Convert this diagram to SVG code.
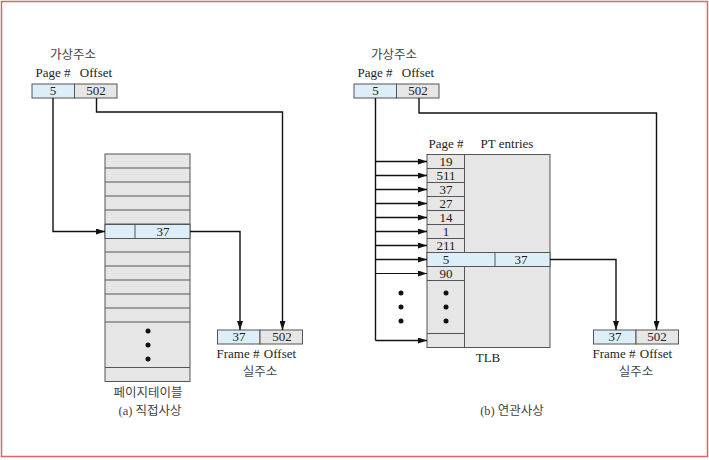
<svg xmlns="http://www.w3.org/2000/svg" width="709" height="460" viewBox="0 0 709 460">
<defs>
<marker id="ah" markerWidth="9" markerHeight="6" refX="9" refY="3" orient="auto" markerUnits="userSpaceOnUse">
<path d="M0,0 L9,3 L0,6 Z" fill="#111"/>
</marker>
<style>
.t{font-family:"Liberation Serif","Times New Roman",serif;font-size:13px;fill:#222;text-anchor:middle}
.k{font-family:"Liberation Serif","Noto Sans CJK KR","Noto Sans",serif;font-size:12.5px;fill:#444;text-anchor:middle}
.g{fill:#e6e6e6;stroke:#555;stroke-width:1}
.b{fill:#dceef8;stroke:#555;stroke-width:1}
.ln{stroke:#555;stroke-width:1;fill:none}
.c{stroke:#111;stroke-width:1.4;fill:none;marker-end:url(#ah)}
.ct{stroke:#111;stroke-width:1;fill:none;marker-end:url(#ah)}
.d{fill:#111}
</style>
</defs>
<rect x="1.5" y="1.5" width="706" height="455" fill="#fff" stroke="#e06666" stroke-width="1.5"/>

<!-- (a) virtual address -->
<g id="va-a">
<text class="k" x="73" y="59">가상주소</text>
<text class="t" x="53" y="77">Page #</text>
<text class="t" x="96" y="77">Offset</text>
<rect class="b" x="32" y="84" width="42.5" height="14"/>
<rect class="g" x="74.5" y="84" width="42.5" height="14"/>
<text class="t" x="53" y="95">5</text>
<text class="t" x="96" y="95">502</text>
</g>

<!-- (a) page table -->
<g id="pagetable">
<rect class="g" x="105" y="154" width="85" height="227.5"/>
<path class="ln" d="M105,168H190M105,182H190M105,196H190M105,210H190M105,224H190M105,238H190M105,252H190M105,266H190M105,280H190M105,294H190M105,308H190M105,322H190M105,367.5H190"/>
<rect class="b" x="105" y="224.5" width="85" height="14"/>
<line class="ln" x1="135" y1="224.5" x2="135" y2="238.5"/>
<text class="t" x="163" y="235.5">37</text>
<circle class="d" cx="148" cy="331" r="2.5"/>
<circle class="d" cx="148" cy="345" r="2.5"/>
<circle class="d" cx="148" cy="359" r="2.5"/>
<text class="k" x="148" y="397">페이지테이블</text>
</g>

<!-- (a) physical address -->
<g id="pa-a">
<rect class="b" x="217.5" y="330" width="42.5" height="14"/>
<rect class="g" x="260" y="330" width="42.5" height="14"/>
<text class="t" x="239" y="341">37</text>
<text class="t" x="282" y="341">502</text>
<text class="t" x="238" y="358">Frame #</text>
<text class="t" x="280" y="358">Offset</text>
<text class="k" x="260" y="376">실주소</text>
</g>

<text id="cap-a" class="k" x="150" y="415">(a) 직접사상</text>

<!-- (b) virtual address -->
<g id="va-b">
<text class="k" x="394" y="59">가상주소</text>
<text class="t" x="375" y="77">Page #</text>
<text class="t" x="418" y="77">Offset</text>
<rect class="b" x="354" y="84" width="42.5" height="14"/>
<rect class="g" x="396.5" y="84" width="42.5" height="14"/>
<text class="t" x="375.5" y="95">5</text>
<text class="t" x="418" y="95">502</text>
</g>

<!-- (b) TLB -->
<g id="tlb">
<text class="t" x="446" y="148">Page #</text>
<text class="t" x="507" y="148">PT entries</text>
<rect class="g" x="427" y="154.5" width="123" height="193"/>
<line class="ln" x1="464.5" y1="154.5" x2="464.5" y2="347.5"/>
<path class="ln" d="M427,168.5H464.5M427,182.5H464.5M427,196.5H464.5M427,210.5H464.5M427,224.5H464.5M427,238.5H464.5M427,280.5H464.5M427,333.5H464.5"/>
<rect class="b" x="427" y="252.5" width="123" height="14"/>
<line class="ln" x1="495" y1="252.5" x2="495" y2="266.5"/>
<text class="t" x="446" y="165.5">19</text>
<text class="t" x="446" y="179.5">511</text>
<text class="t" x="446" y="193.5">37</text>
<text class="t" x="446" y="207.5">27</text>
<text class="t" x="446" y="221.5">14</text>
<text class="t" x="446" y="235.5">1</text>
<text class="t" x="446" y="249.5">211</text>
<text class="t" x="446" y="263.5">5</text>
<text class="t" x="521" y="263.5">37</text>
<text class="t" x="446" y="277.5">90</text>
<circle class="d" cx="446" cy="293" r="2.5"/>
<circle class="d" cx="446" cy="307" r="2.5"/>
<circle class="d" cx="446" cy="321" r="2.5"/>
<text class="t" x="488" y="362">TLB</text>
</g>

<!-- (b) physical address -->
<g id="pa-b">
<rect class="b" x="593.5" y="330" width="42.5" height="14"/>
<rect class="g" x="636" y="330" width="42.5" height="14"/>
<text class="t" x="615" y="341">37</text>
<text class="t" x="657" y="341">502</text>
<text class="t" x="614" y="358">Frame #</text>
<text class="t" x="656" y="358">Offset</text>
<text class="k" x="636" y="376">실주소</text>
</g>

<text id="cap-b" class="k" x="512" y="415">(b) 연관사상</text>

<!-- connectors -->
<g id="connectors">
<path class="c" d="M53,98V231.5H105"/>
<path class="c" d="M96.5,98V112H282.5V330"/>
<path class="c" d="M190,231.5H240V330"/>
<path class="c" d="M419,98V113H656.5V330"/>
<path class="c" d="M550,259.5H616V330"/>
<path class="ln" style="stroke:#111;stroke-width:1.4" d="M375.5,98V340.5"/>
<path class="c" d="M375.5,161.5H427"/>
<path class="c" d="M375.5,175.5H427"/>
<path class="c" d="M375.5,189.5H427"/>
<path class="c" d="M375.5,203.5H427"/>
<path class="c" d="M375.5,217.5H427"/>
<path class="c" d="M375.5,231.5H427"/>
<path class="c" d="M375.5,245.5H427"/>
<path class="c" d="M375.5,259.5H427"/>
<path class="ct" d="M375.5,273.5H427"/>
<path class="c" d="M375.5,340.5H427"/>
<circle class="d" cx="401" cy="293" r="2.5"/>
<circle class="d" cx="401" cy="307" r="2.5"/>
<circle class="d" cx="401" cy="321" r="2.5"/>
</g>
</svg>
